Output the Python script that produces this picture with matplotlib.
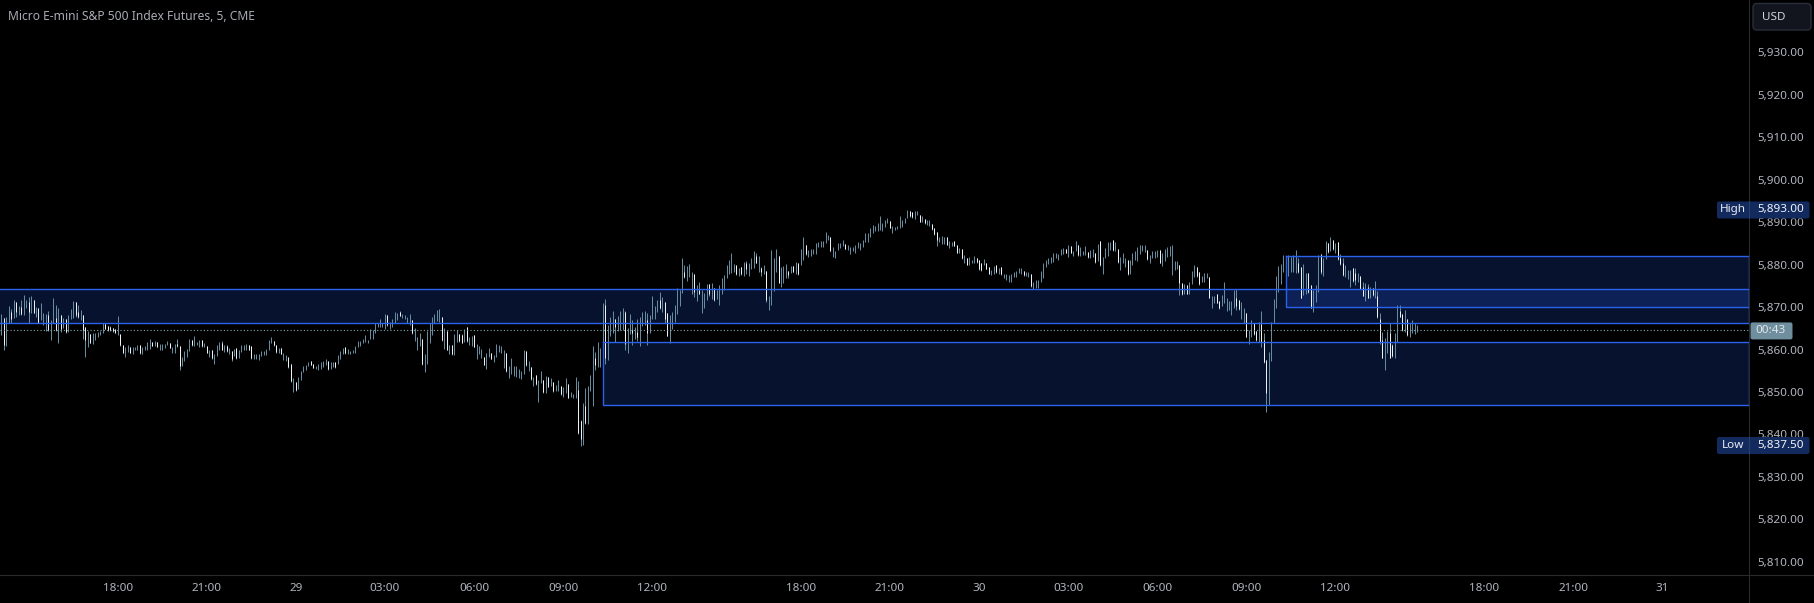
import numpy as np
import matplotlib
matplotlib.use("Agg")
import matplotlib.pyplot as plt
from matplotlib.patches import FancyBboxPatch, Rectangle
from matplotlib.lines import Line2D

plt.rcParams['font.family'] = ['Noto Sans', 'DejaVu Sans']

# All prices are stored as points above this level
price_base = 5800

# 5 minute bars
high_pts = [
68.4,67.4,67.7,70.3,69.5,71.7,71.3,70.3,71.7,72.9,71.7,72.3,72.6,71.7,70.1,69.7,70.9,68.7,68.4,69.1,
67.0,72.1,70.5,69.7,68.1,67.5,67.2,68.1,69.5,71.4,71.1,70.5,69.3,68.1,65.2,64.4,63.7,63.8,64.0,64.1,
64.4,66.2,66.2,65.5,65.5,65.0,64.8,67.9,63.7,61.1,60.7,61.1,60.7,60.7,60.5,61.1,61.1,60.5,60.8,61.8,
62.5,61.8,62.0,61.7,61.3,61.3,61.2,62.1,61.5,60.7,61.3,62.5,60.8,58.3,59.6,60.1,62.5,62.2,63.2,61.8,
62.2,62.2,61.5,60.8,60.0,59.9,58.9,61.1,61.8,62.0,61.1,61.1,60.3,59.7,60.1,60.3,59.9,61.1,61.1,61.3,
61.1,60.8,58.9,58.9,58.9,59.6,59.6,60.1,62.2,62.9,62.1,61.1,60.3,60.3,59.1,58.7,58.3,56.7,53.4,52.4,
53.6,54.9,56.1,56.3,57.1,57.4,56.7,56.1,56.5,57.1,57.4,57.8,57.3,57.1,57.1,57.1,58.7,59.6,60.4,60.7,
60.1,59.7,59.9,60.8,62.0,62.0,62.5,63.4,62.2,64.8,64.6,66.2,66.2,67.2,66.2,68.4,68.1,66.4,67.2,68.8,
68.7,69.1,68.4,68.1,67.7,68.4,67.0,65.0,63.0,63.8,62.5,58.9,64.4,66.2,67.6,68.4,69.3,69.5,67.6,65.0,
64.4,61.1,61.1,63.6,64.6,63.6,63.6,64.8,65.2,63.0,63.2,63.4,61.2,60.8,60.1,58.3,59.2,60.3,59.1,58.7,
61.3,61.0,60.9,59.9,59.1,56.2,57.9,56.1,56.1,55.5,54.9,59.9,59.6,57.3,55.8,53.5,54.0,52.9,54.9,52.8,
53.7,53.5,53.2,52.4,51.6,52.8,51.5,51.2,53.2,51.9,50.0,49.5,53.6,52.6,43.4,47.3,51.0,51.4,54.0,60.8,
59.5,61.7,60.3,71.0,72.0,65.8,67.7,69.1,67.3,67.9,69.1,69.7,69.1,65.1,68.4,66.9,65.2,67.2,67.7,68.9,
69.1,68.5,68.1,72.6,70.3,71.7,73.5,72.4,71.3,68.5,68.1,68.9,70.5,74.4,74.0,81.5,79.9,79.7,80.2,78.3,
77.8,75.2,75.8,74.0,73.4,75.4,75.4,75.7,74.4,74.0,75.2,76.8,77.5,79.9,81.1,82.7,80.2,79.8,79.2,79.5,
80.6,80.8,80.3,81.5,83.2,82.7,82.0,79.5,79.9,78.6,72.6,83.4,81.5,83.6,82.0,79.5,79.7,80.1,78.6,79.7,
79.7,80.6,80.3,83.7,86.4,84.6,83.4,83.7,83.7,85.0,85.4,85.6,85.6,87.6,87.0,86.4,84.1,83.2,85.0,85.0,
85.8,84.9,84.6,84.2,84.2,84.6,85.4,85.2,85.8,87.5,87.5,88.7,89.3,89.1,89.7,91.5,89.9,90.5,90.9,90.3,
89.1,88.9,89.2,91.5,90.5,90.9,92.9,92.6,92.3,92.6,92.6,91.7,91.5,90.7,90.5,90.5,89.6,88.6,87.6,86.4,
86.8,86.4,86.4,85.6,85.3,85.6,84.6,84.0,83.8,82.3,81.6,81.9,81.2,82.0,81.6,81.2,80.3,81.3,80.5,79.5,
78.7,79.7,79.9,79.3,79.4,77.8,77.7,77.5,77.8,78.3,78.6,79.3,79.1,78.6,78.3,78.3,77.7,76.0,76.4,76.4,
78.6,80.3,81.1,81.6,81.9,82.8,82.7,82.4,83.8,84.0,83.8,84.6,84.4,83.3,85.6,84.6,84.2,83.3,84.4,82.9,
83.4,83.7,82.7,84.9,85.6,81.9,84.0,85.4,85.4,85.8,85.4,83.6,81.9,82.8,81.5,81.1,81.1,82.8,83.2,84.1,
84.6,84.6,84.6,83.4,82.3,83.3,83.3,83.4,83.4,82.7,83.6,84.1,84.4,84.6,80.9,80.9,79.9,75.7,75.4,75.2,
76.0,78.5,79.9,79.4,78.3,77.3,78.0,78.0,77.2,72.5,72.7,73.2,71.5,72.8,76.0,72.1,71.5,71.5,74.0,74.2,
71.7,71.1,69.7,68.5,64.7,66.9,66.3,64.4,66.4,69.1,63.8,57.5,59.5,66.4,71.9,77.3,79.7,80.2,82.3,82.1,
82.3,81.7,82.3,83.5,81.5,79.5,80.2,78.1,78.0,75.2,74.0,75.2,82.3,82.5,81.6,85.6,85.0,86.4,85.8,85.2,
85.3,82.5,81.5,79.8,78.7,78.7,79.1,79.3,78.1,77.4,75.8,75.6,75.4,74.7,74.6,76.1,73.9,68.5,64.2,62.6,
64.4,66.2,61.4,64.0,70.5,70.5,68.3,69.3,67.2,66.2,66.9,66.3,65.8]

low_pts = [
63.4,59.9,60.8,66.2,66.2,67.4,67.6,68.1,68.1,68.1,69.7,66.2,68.7,68.5,67.7,66.2,67.0,65.8,64.4,64.4,
62.2,66.2,64.4,61.6,64.2,65.0,64.0,64.2,67.2,67.5,67.7,67.4,67.0,62.5,58.3,60.7,61.5,61.3,62.2,62.9,
63.4,64.0,64.8,64.4,64.4,64.2,63.8,63.4,60.8,59.1,58.3,59.5,59.1,58.9,60.0,60.0,58.9,58.9,59.9,60.0,
60.1,60.8,60.8,60.5,59.9,59.9,60.3,61.1,60.3,59.1,59.2,60.7,55.2,56.1,57.4,58.3,59.6,60.8,60.8,61.1,
60.5,60.7,60.5,59.1,58.2,57.7,56.6,58.5,60.0,60.0,59.5,59.5,58.9,57.4,58.5,57.8,57.9,59.3,59.9,60.0,
59.9,57.8,57.8,57.8,57.6,58.5,58.7,58.7,59.9,61.5,60.9,59.2,59.2,58.9,57.5,57.4,55.7,52.4,50.1,50.3,
50.8,52.8,54.8,55.2,56.1,56.3,55.6,55.3,55.2,55.3,55.8,56.3,55.2,55.3,55.8,55.6,56.5,57.7,58.9,58.9,
58.9,58.9,59.1,59.2,60.5,60.9,61.5,61.7,61.5,62.4,62.4,63.8,65.4,65.4,65.4,64.8,65.5,64.8,65.4,66.2,
67.0,67.9,67.4,67.1,66.2,65.8,63.7,62.1,59.9,60.8,56.3,54.8,56.7,61.6,63.4,66.2,66.8,66.6,62.0,60.1,
59.9,58.9,58.7,58.7,61.7,61.8,61.5,61.7,61.8,61.1,60.8,60.5,57.7,58.9,57.9,56.3,55.3,58.3,57.7,57.1,
58.3,59.5,59.1,55.7,54.8,53.3,54.2,53.7,53.6,53.2,53.0,54.2,56.1,54.9,52.9,51.5,51.6,47.7,52.2,49.8,
49.8,51.1,51.4,50.0,50.2,50.2,49.3,48.8,49.8,48.5,48.7,48.6,48.6,40.2,37.3,37.6,42.4,42.5,50.3,46.7,
55.1,55.9,55.9,56.7,56.6,57.5,63.2,63.8,61.8,64.4,64.6,64.6,59.9,59.2,63.6,61.0,62.4,62.1,60.9,65.5,
65.8,61.0,63.8,67.1,67.1,68.9,69.5,68.9,66.3,63.2,61.6,64.8,66.5,68.4,70.3,73.4,76.8,76.2,77.2,73.2,
72.3,71.4,73.0,68.7,69.9,71.7,72.6,72.0,71.5,72.0,70.5,73.2,74.0,76.9,77.8,78.1,78.3,77.6,77.3,77.6,
77.3,77.9,77.3,78.9,79.1,80.3,78.3,77.3,77.9,71.3,69.3,70.5,73.9,78.3,75.6,74.8,75.7,76.9,76.8,78.1,
78.3,77.8,77.6,79.9,81.1,82.3,81.9,82.0,82.4,82.4,84.2,84.2,84.2,85.0,85.8,83.2,81.7,81.5,83.4,84.0,
84.5,83.7,83.4,82.5,83.3,82.7,84.0,83.4,84.2,85.3,85.4,86.6,87.5,87.9,87.9,88.2,87.9,88.8,89.7,88.6,
87.5,88.2,88.3,88.6,88.9,89.9,90.9,91.3,90.9,90.7,91.7,90.0,90.0,89.6,89.3,89.1,88.2,87.1,84.5,85.4,
84.9,84.8,84.6,84.0,84.4,84.4,82.7,82.7,81.3,80.5,79.8,79.9,80.3,80.3,80.5,78.7,78.6,79.9,78.9,77.8,
77.5,77.9,78.1,77.9,77.5,76.8,76.5,75.8,75.8,77.2,77.2,78.1,77.9,77.3,77.3,77.0,74.8,74.2,74.6,74.4,
76.0,76.8,79.4,80.1,80.5,80.7,81.5,81.2,82.3,82.5,82.7,81.9,82.7,82.0,83.3,82.1,82.1,82.3,82.3,81.6,
81.6,81.9,80.5,80.9,79.7,77.8,81.6,82.0,83.4,83.3,83.2,80.5,78.7,80.3,79.5,77.5,77.9,79.8,81.1,80.9,
82.5,83.3,82.9,81.2,80.3,81.5,81.6,81.7,80.3,79.7,80.9,81.9,82.0,77.5,78.7,78.9,72.8,72.8,73.2,73.1,
73.2,75.4,77.2,77.2,75.2,76.0,75.8,76.8,72.1,69.7,70.9,70.9,69.5,70.2,70.9,69.1,69.3,68.1,69.7,69.3,
69.3,67.3,66.2,62.9,61.3,62.9,63.4,62.0,61.8,60.7,56.9,45.3,46.9,57.3,66.2,69.9,73.5,75.4,78.3,77.4,
77.3,78.3,78.3,78.1,78.0,72.1,72.8,73.2,73.4,69.7,68.9,71.3,73.5,77.8,77.3,81.3,82.8,83.2,83.5,82.7,
81.1,79.9,77.4,77.0,76.6,74.8,76.0,75.2,76.0,74.2,72.7,71.5,72.1,72.1,72.7,72.2,67.5,61.3,57.9,55.2,
59.1,57.9,58.3,58.1,61.7,67.6,64.4,64.2,63.3,63.0,63.8,63.6,64.2]

# Bars that closed lower, these show a pale body
down_idx = [
1,4,6,8,11,13,15,19,22,24,26,30,31,33,34,36,42,43,44,45,46,48,49,52,56,61,63,68,71,72,77,81,83,85,89,91,93,95,
100,101,110,111,113,116,117,119,125,126,132,135,139,156,161,166,170,178,180,182,185,186,188,191,
195,198,204,212,214,216,219,221,223,226,229,233,234,236,240,244,248,252,255,257,261,266,268,269,276,280,282,286,
288,297,299,301,305,307,309,314,318,320,322,325,335,341,359,367,368,371,373,376,377,378,382,
385,386,388,390,394,395,396,398,399,402,404,413,416,430,432,435,439,442,444,449,451,455,463,468,476,477,
479,483,484,488,491,492,499,500,503,506,507,509,510,511,519,522,524,525,528,529,533,536,538,540,541,542,546,547,
549,550,552,554,556,557,558,561,562,565,566,568]

down_open = [
67.4,68.9,71.3,70.1,71.3,71.7,69.7,68.1,67.4,68.1,67.2,71.1,68.9,68.1,65.2,63.7,66.0,65.5,65.4,65.0,64.8,63.7,61.1,60.5,61.1,61.8,61.7,61.5,61.3,60.8,62.2,62.2,60.8,59.9,61.5,60.8,59.7,60.3,
61.1,60.8,62.1,61.1,60.3,58.3,56.7,52.4,57.4,56.7,57.3,57.1,60.5,68.1,68.9,67.0,62.5,67.6,64.4,61.1,63.6,63.4,65.2,63.4,
58.3,59.1,59.1,59.6,55.8,54.0,52.8,53.5,52.4,51.5,51.9,50.4,43.2,46.7,58.1,70.5,67.3,68.9,64.6,64.2,66.9,71.7,71.3,68.5,78.3,77.8,74.0,75.4,
74.4,79.8,79.5,80.3,82.0,79.3,78.6,82.0,78.6,79.7,80.3,84.6,86.4,84.9,90.3,92.6,92.3,91.7,90.7,89.6,88.6,87.6,86.4,
85.6,84.6,83.8,81.6,81.6,81.2,80.3,80.5,79.5,79.9,79.4,78.6,77.7,83.8,84.4,84.6,82.9,82.7,85.6,85.8,83.6,81.1,83.4,83.4,79.9,75.7,
75.2,79.4,78.3,77.2,73.2,71.5,72.1,71.7,68.5,66.3,64.4,65.9,62.2,57.5,81.1,80.7,80.3,79.5,78.0,75.2,82.5,85.0,85.8,85.3,81.5,80.3,79.1,78.1,
77.4,74.8,74.7,74.6,72.6,67.3,62.2,63.8,61.0,69.1,68.3,67.2]

down_close = [
61.1,67.1,68.9,68.4,68.9,68.7,66.3,64.6,64.6,64.8,64.2,68.1,67.7,64.6,62.2,61.6,64.9,64.6,64.6,64.4,64.0,61.0,59.2,59.2,59.2,60.9,60.7,60.4,60.8,56.1,61.0,60.8,59.2,57.9,60.0,59.6,57.7,57.9,
60.0,57.9,61.1,59.3,59.0,55.8,52.6,50.5,56.4,55.6,55.3,55.8,59.1,65.7,68.0,63.8,56.6,62.2,60.0,58.9,62.0,61.6,62.0,60.5,
56.4,57.8,55.0,56.3,53.1,51.8,49.9,51.2,50.2,49.4,48.6,40.4,39.0,42.6,56.3,57.9,65.4,61.2,63.8,62.9,63.8,69.7,67.3,63.3,77.2,73.5,73.0,73.2,
71.6,77.8,77.8,78.9,80.5,78.3,71.6,75.7,77.6,78.3,77.8,82.4,83.3,83.8,88.7,91.5,91.2,90.1,89.7,88.3,87.2,85.8,84.6,
84.5,82.8,81.5,79.9,80.6,78.9,78.7,79.0,77.9,78.3,77.7,77.5,75.0,82.8,82.8,82.3,81.8,80.7,79.8,83.4,80.6,77.7,81.4,80.5,75.6,73.1,
73.2,77.3,75.4,72.2,71.0,69.7,70.2,69.5,63.0,63.6,62.2,61.8,57.0,49.7,78.2,80.7,78.3,72.2,73.5,69.9,78.3,83.0,83.6,81.3,80.1,77.6,76.1,76.4,
74.3,72.7,72.1,72.8,67.6,61.8,57.9,58.1,58.5,67.6,64.5,63.4]

# Zones: first bar, top, bottom
zone_start = [-1, 243, 519]
zone_top = [5874.25, 5861.75, 5882.0]
zone_bottom = [5866.25, 5847.0, 5870.0]

last_price = 5864.5
session_high = 5893.0
session_low = 5837.5

y_ticks = list(range(5810, 5931, 10))
x_tick_bars = [47, 83, 119, 155, 191, 227, 263, 323, 359, 395, 431, 467, 503, 539, 599, 635, 671]
x_tick_labels = ['18:00', '21:00', '29', '03:00', '06:00', '09:00', '12:00', '18:00', '21:00',
                 '30', '03:00', '06:00', '09:00', '12:00', '18:00', '21:00', '31']

W, H = 1815, 603
AXIS_X, AXIS_Y = 1749, 575
TEXT = '#b2b5be'
WICK = '#668a9e'
BODY = '#eef2f4'
ZONE = '#2962ff'
GRID = '#2a2a2c'

fig = plt.figure(figsize=(W / 100, H / 100), dpi=100, facecolor='black')
ax = fig.add_axes([0, 1 - AXIS_Y / H, AXIS_X / W, AXIS_Y / H], facecolor='black')

# px = 1.33 + 2.475 * bar, price px = 52.5 + (5930 - price) * 4.243
ax.set_xlim(-0.537, 706.1)
ax.set_ylim(5806.86, 5942.37)

highs = price_base + np.array(high_pts)
lows = price_base + np.array(low_pts)
bars = np.arange(len(highs))

right = ax.get_xlim()[1]
for start, top, bottom in zip(zone_start, zone_top, zone_bottom):
    ax.add_patch(Rectangle((start, bottom), right - start, top - bottom,
                           facecolor=ZONE, alpha=0.19, edgecolor='none', zorder=1))
    ax.plot([start, right, right, start, start], [top, top, bottom, bottom, top],
            color='#2a62ec', lw=1.0, zorder=4, solid_joinstyle='miter')

wicks = ax.vlines(bars, lows, highs, color=WICK, lw=0.72, zorder=2)
wicks.set_snap(True)
d = np.array(down_idx)
bodies = ax.vlines(d, price_base + np.array(down_close), price_base + np.array(down_open),
                   color=BODY, lw=0.72, zorder=3)
bodies.set_snap(True)

ax.axhline(last_price, color='#86a9b8', lw=0.8, linestyle=(0, (1, 2)), zorder=3)

ax.yaxis.tick_right()
ax.set_yticks(y_ticks)
ax.set_yticklabels([f'{v:,.2f}' for v in y_ticks])
ax.set_xticks(x_tick_bars)
ax.set_xticklabels(x_tick_labels)
ax.tick_params(axis='both', length=0, labelcolor=TEXT, labelsize=8.4)
ax.tick_params(axis='y', pad=6)
ax.tick_params(axis='x', pad=6)
for name, spine in ax.spines.items():
    spine.set_visible(name in ('right', 'bottom'))
    spine.set_color(GRID)
    spine.set_linewidth(0.8)

# Overlay in pixel coordinates for the tags and the button
top = fig.add_axes([0, 0, 1, 1], facecolor='none', zorder=5)
top.set_xlim(0, W)
top.set_ylim(H, 0)
top.axis('off')


def price_px(price):
    return H - ax.transData.transform((0, price))[1]


top.add_artist(Line2D([AXIS_X, W], [AXIS_Y, AXIS_Y], color=GRID, lw=0.8))
top.add_artist(Line2D([AXIS_X, AXIS_X], [AXIS_Y, H], color=GRID, lw=0.8))

top.text(8, 16.5, 'Micro E-mini S&P 500 Index Futures, 5, CME', color='#a8abb3',
         fontsize=8.7, va='center', ha='left')

top.add_patch(FancyBboxPatch((1753, 3.5), 58, 26.5, boxstyle='round,pad=0,rounding_size=4',
                             facecolor='#12151e', edgecolor='#2a2e39', lw=1))
top.text(1762, 17, 'USD', color='#d1d4dc', fontsize=8.4, va='center', ha='left')

for label, price in (('High', session_high), ('Low', session_low)):
    y = price_px(price)
    top.add_patch(FancyBboxPatch((1718, y - 7), 90.5, 15, boxstyle='round,pad=1,rounding_size=2',
                                 facecolor='#132a5e', edgecolor='none'))
    top.add_artist(Line2D([AXIS_X, AXIS_X], [y - 8, y + 9], color='#2b3f6b', lw=0.8))
    top.text(1733, y + 0.5, label, color='#e8ebf2', fontsize=8.4, va='center', ha='center')
    top.text(1781, y + 0.5, f'{price:,.2f}', color='#f2f4f8', fontsize=8.4, va='center', ha='center')

y = price_px(last_price)
top.add_patch(FancyBboxPatch((1750.5, y - 8), 42, 17, boxstyle='round,pad=0,rounding_size=2',
                             facecolor='#6f8f9e', edgecolor='none'))
top.text(1771, y + 0.3, '00:43', color='#dfe5e8', fontsize=8.4, va='center', ha='center')

fig.savefig('out.png', dpi=100, facecolor='black')
